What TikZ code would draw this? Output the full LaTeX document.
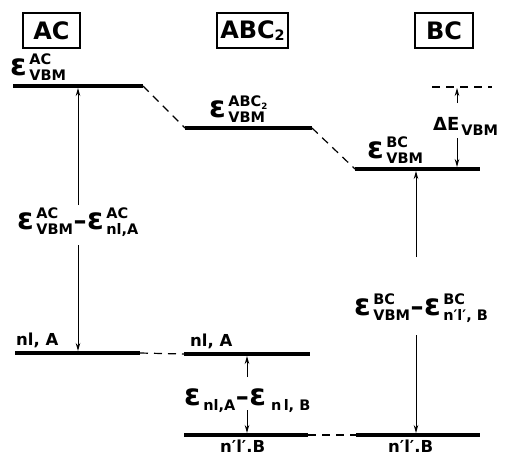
\documentclass[tikz,border=0pt]{standalone}
\usepackage{fontspec}
\setmainfont{DejaVu Sans}
\usetikzlibrary{arrows.meta}
\newcommand\bigf{\fontsize{30}{30}\selectfont}
\newcommand\smf{\fontsize{14.5}{15}\selectfont}
\newcommand\EE[2]{{\bigf ε}\kern2.5pt\raisebox{-5pt}{\smf\begin{tabular}[b]{@{}l@{}}#1\\#2\end{tabular}}}
\newcommand\ES[1]{{\bigf ε}\kern2.5pt\raisebox{-5pt}{\smf #1}}
\newcommand\dsh{\kern0.5pt{\fontsize{26}{26}\selectfont –}\kern0.5pt}
\newcommand\two{\raisebox{-2.5pt}{\fontsize{0.6em}{1em}\selectfont 2}}
\begin{document}
\begin{tikzpicture}[x=1pt,y=-1pt,font=\bfseries,
  level/.style={line width=4pt},
  link/.style={line width=1.2pt,dash pattern=on 8pt off 6pt},
  arr/.style={line width=1pt,-{Stealth[length=8pt,width=4.5pt]}},
  lbl/.style={anchor=base west,inner sep=0pt},
  title/.style={draw,line width=1.8pt,minimum height=35pt,inner sep=0pt,font=\fontsize{24}{24}\selectfont\bfseries},
  small/.style={font=\fontsize{16.5}{16.5}\selectfont\bfseries}]
\useasboundingbox (0,0) rectangle (505,455);
% titles
\node[title,minimum width=57pt] (tAC) at (51.5,30.5) {AC};
\node[title,minimum width=71pt] (tABC) at (252.5,30.5) {ABC\two};
\node[title,minimum width=58pt] (tBC) at (444,30.5) {BC};
% level ends
\coordinate (acv1) at (13,86);  \coordinate (acv2) at (143,86);
\coordinate (abv1) at (185,128); \coordinate (abv2) at (312,128);
\coordinate (bcv1) at (355,169); \coordinate (bcv2) at (480,169);
\coordinate (acn1) at (15,353);  \coordinate (acn2) at (140,353);
\coordinate (abn1) at (184,354); \coordinate (abn2) at (310,354);
\coordinate (abm1) at (184,435); \coordinate (abm2) at (308,435);
\coordinate (bcm1) at (356,435); \coordinate (bcm2) at (480,435);
\coordinate (ref1) at (432,87);  \coordinate (ref2) at (492,87);
% levels
\draw[level] (acv1) -- (acv2);
\draw[level] (abv1) -- (abv2);
\draw[level] (bcv1) -- (bcv2);
\draw[level] (acn1) -- (acn2);
\draw[level] (abn1) -- (abn2);
\draw[level] (abm1) -- (abm2);
\draw[level] (bcm1) -- (bcm2);
% dashed links
\draw[link] (acv2) -- (abv1);
\draw[link] (abv2) -- (bcv1);
\draw[link] (acn2) -- (abn1);
\draw[link] (abm2) -- (bcm1);
\draw[link] (ref1) -- (ref2);
% labels
\node[lbl] (eAC) at (10,75) {\EE{AC}{VBM}};
\node[lbl] (eABC) at (209,117) {\EE{ABC\two}{VBM}};
\node[lbl] (eBC) at (367,158) {\EE{BC}{VBM}};
\node[lbl] (dE) at (433,130) {{\fontsize{18}{18}\selectfont ΔE}\kern2pt\raisebox{-5pt}{\smf VBM}};
\node[lbl] (dAC) at (17,229) {\EE{AC}{VBM}\dsh\EE{AC}{nl,A}};
\node[lbl] (dBC) at (354,315) {\EE{BC}{VBM}\dsh\EE{BC}{n′l′, B}};
\node[lbl] (dM) at (184,405) {\ES{nl,A}\dsh\ES{\,n\,l, B}};
\node[lbl,small] (nA1) at (16,345) {nl, A};
\node[lbl,small] (nA2) at (190,346) {nl, A};
\node[lbl,small] (nB1) at (220,452) {n′l′.B};
\node[lbl,small] (nB2) at (388,452) {n′l′.B};
% arrow coordinates
\coordinate (g1a) at (78,205); \coordinate (t1a) at (78,88);
\coordinate (g1b) at (78,245); \coordinate (t1b) at (78,351);
\coordinate (g2a) at (416,257); \coordinate (t2a) at (416,171);
\coordinate (g2b) at (416,335); \coordinate (t2b) at (416,433);
\coordinate (g3a) at (457,103); \coordinate (t3a) at (457,88);
\coordinate (g3b) at (457,138); \coordinate (t3b) at (457,167);
\coordinate (g4a) at (247,377); \coordinate (t4a) at (247,356);
\coordinate (g4b) at (247,410); \coordinate (t4b) at (247,433);
\draw[arr] (g1a) -- (t1a);
\draw[arr] (g1b) -- (t1b);
\draw[arr] (g2a) -- (t2a);
\draw[arr] (g2b) -- (t2b);
\draw[arr] (g3a) -- (t3a);
\draw[arr] (g3b) -- (t3b);
\draw[arr] (g4a) -- (t4a);
\draw[arr] (g4b) -- (t4b);
\end{tikzpicture}
\end{document}
